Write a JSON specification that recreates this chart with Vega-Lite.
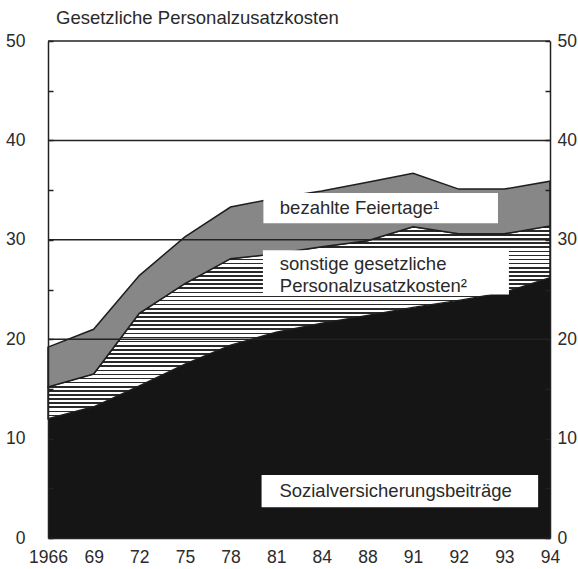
{
  "$schema": "https://vega.github.io/schema/vega-lite/v6.json",
  "width": 502,
  "height": 497,
  "autosize": {"type": "none"},
  "padding": {"left": 48, "top": 41, "right": 28, "bottom": 31},
  "background": "white",
  "title": {"text": "Gesetzliche Personalzusatzkosten", "anchor": "start", "frame": "group", "fontSize": 18.5, "fontWeight": "normal", "font": "Liberation Sans", "color": "#2a2a2a", "offset": 5, "dx": 8},
  "config": {"view": {"stroke": null}, "font": "Liberation Sans"},
  "datasets": {
    "kosten": [
      {"idx": 0, "year": "1966", "series": "Sozialversicherungsbeiträge", "rank": 1, "value": 12.0},
      {"idx": 1, "year": "69", "series": "Sozialversicherungsbeiträge", "rank": 1, "value": 13.2},
      {"idx": 2, "year": "72", "series": "Sozialversicherungsbeiträge", "rank": 1, "value": 15.3},
      {"idx": 3, "year": "75", "series": "Sozialversicherungsbeiträge", "rank": 1, "value": 17.5},
      {"idx": 4, "year": "78", "series": "Sozialversicherungsbeiträge", "rank": 1, "value": 19.4},
      {"idx": 5, "year": "81", "series": "Sozialversicherungsbeiträge", "rank": 1, "value": 20.7},
      {"idx": 6, "year": "84", "series": "Sozialversicherungsbeiträge", "rank": 1, "value": 21.6},
      {"idx": 7, "year": "88", "series": "Sozialversicherungsbeiträge", "rank": 1, "value": 22.4},
      {"idx": 8, "year": "91", "series": "Sozialversicherungsbeiträge", "rank": 1, "value": 23.2},
      {"idx": 9, "year": "92", "series": "Sozialversicherungsbeiträge", "rank": 1, "value": 23.9},
      {"idx": 10, "year": "93", "series": "Sozialversicherungsbeiträge", "rank": 1, "value": 24.7},
      {"idx": 11, "year": "94", "series": "Sozialversicherungsbeiträge", "rank": 1, "value": 26.2},
      {"idx": 0, "year": "1966", "series": "sonstige gesetzliche Personalzusatzkosten", "rank": 2, "value": 3.2},
      {"idx": 1, "year": "69", "series": "sonstige gesetzliche Personalzusatzkosten", "rank": 2, "value": 3.3},
      {"idx": 2, "year": "72", "series": "sonstige gesetzliche Personalzusatzkosten", "rank": 2, "value": 7.3},
      {"idx": 3, "year": "75", "series": "sonstige gesetzliche Personalzusatzkosten", "rank": 2, "value": 8.1},
      {"idx": 4, "year": "78", "series": "sonstige gesetzliche Personalzusatzkosten", "rank": 2, "value": 8.7},
      {"idx": 5, "year": "81", "series": "sonstige gesetzliche Personalzusatzkosten", "rank": 2, "value": 7.9},
      {"idx": 6, "year": "84", "series": "sonstige gesetzliche Personalzusatzkosten", "rank": 2, "value": 7.7},
      {"idx": 7, "year": "88", "series": "sonstige gesetzliche Personalzusatzkosten", "rank": 2, "value": 7.5},
      {"idx": 8, "year": "91", "series": "sonstige gesetzliche Personalzusatzkosten", "rank": 2, "value": 8.1},
      {"idx": 9, "year": "92", "series": "sonstige gesetzliche Personalzusatzkosten", "rank": 2, "value": 6.7},
      {"idx": 10, "year": "93", "series": "sonstige gesetzliche Personalzusatzkosten", "rank": 2, "value": 5.9},
      {"idx": 11, "year": "94", "series": "sonstige gesetzliche Personalzusatzkosten", "rank": 2, "value": 5.2},
      {"idx": 0, "year": "1966", "series": "bezahlte Feiertage", "rank": 3, "value": 4.0},
      {"idx": 1, "year": "69", "series": "bezahlte Feiertage", "rank": 3, "value": 4.5},
      {"idx": 2, "year": "72", "series": "bezahlte Feiertage", "rank": 3, "value": 3.8},
      {"idx": 3, "year": "75", "series": "bezahlte Feiertage", "rank": 3, "value": 4.7},
      {"idx": 4, "year": "78", "series": "bezahlte Feiertage", "rank": 3, "value": 5.2},
      {"idx": 5, "year": "81", "series": "bezahlte Feiertage", "rank": 3, "value": 5.6},
      {"idx": 6, "year": "84", "series": "bezahlte Feiertage", "rank": 3, "value": 5.6},
      {"idx": 7, "year": "88", "series": "bezahlte Feiertage", "rank": 3, "value": 5.9},
      {"idx": 8, "year": "91", "series": "bezahlte Feiertage", "rank": 3, "value": 5.4},
      {"idx": 9, "year": "92", "series": "bezahlte Feiertage", "rank": 3, "value": 4.5},
      {"idx": 10, "year": "93", "series": "bezahlte Feiertage", "rank": 3, "value": 4.5},
      {"idx": 11, "year": "94", "series": "bezahlte Feiertage", "rank": 3, "value": 4.5}
    ]
  },
  "layer": [
    {
      "data": {"name": "kosten"},
      "transform": [
        {"stack": "value", "groupby": ["idx"], "sort": [{"field": "rank", "order": "ascending"}], "as": ["v0", "v1"]},
        {"filter": "datum.rank === 1"}
      ],
      "mark": {"type": "area", "fill": "#151515", "stroke": null},
      "encoding": {
        "x": {"field": "idx", "type": "quantitative", "scale": {"domain": [0, 11], "nice": false, "zero": false},
          "axis": {"values": [0, 1, 2, 3, 4, 5, 6, 7, 8, 9, 10, 11], "labelExpr": "['1966','69','72','75','78','81','84','88','91','92','93','94'][datum.value]", "ticks": false, "domain": true, "domainColor": "#222", "domainWidth": 1.5, "grid": false, "labelFontSize": 17.5, "labelFont": "Liberation Sans", "labelColor": "#2b2b2b", "labelPadding": 10, "labelDx": 5, "labelFlush": false, "labelOverlap": false, "title": null, "zindex": 1}},
        "y": {"field": "v1", "type": "quantitative", "scale": {"domain": [0, 50], "nice": false, "zero": true},
          "axis": {"orient": "left", "values": [0, 5, 10, 15, 20, 25, 30, 35, 40, 45, 50], "labelExpr": "datum.value % 10 === 0 ? datum.label : ''", "tickSize": -5, "tickColor": "#222", "tickWidth": 1.5, "domain": true, "domainColor": "#222", "domainWidth": 1.5, "grid": false, "labelFontSize": 17.5, "labelFont": "Liberation Sans", "labelColor": "#2b2b2b", "labelPadding": 28, "labelFlush": false, "labelOverlap": false, "title": null, "zindex": 1}},
        "y2": {"field": "v0"}
      }
    },
    {
      "data": {"name": "kosten"},
      "transform": [
        {"stack": "value", "groupby": ["idx"], "sort": [{"field": "rank", "order": "ascending"}], "as": ["v0", "v1"]},
        {"filter": "datum.rank === 2"}
      ],
      "mark": {"type": "area", "stroke": "#1e1e1e", "strokeWidth": 1.4,
        "fill": {"gradient": "linear", "x1": 0, "y1": 0, "x2": 0, "y2": 1, "stops": [
          {"offset": 0.0000, "color": "#fff"}, {"offset": 0.0000, "color": "#2a2a2a"}, {"offset": 0.0085, "color": "#2a2a2a"}, {"offset": 0.0085, "color": "#fff"},
          {"offset": 0.0213, "color": "#fff"}, {"offset": 0.0213, "color": "#2a2a2a"}, {"offset": 0.0298, "color": "#2a2a2a"}, {"offset": 0.0298, "color": "#fff"},
          {"offset": 0.0426, "color": "#fff"}, {"offset": 0.0426, "color": "#2a2a2a"}, {"offset": 0.0511, "color": "#2a2a2a"}, {"offset": 0.0511, "color": "#fff"},
          {"offset": 0.0638, "color": "#fff"}, {"offset": 0.0638, "color": "#2a2a2a"}, {"offset": 0.0723, "color": "#2a2a2a"}, {"offset": 0.0723, "color": "#fff"},
          {"offset": 0.0851, "color": "#fff"}, {"offset": 0.0851, "color": "#2a2a2a"}, {"offset": 0.0936, "color": "#2a2a2a"}, {"offset": 0.0936, "color": "#fff"},
          {"offset": 0.1064, "color": "#fff"}, {"offset": 0.1064, "color": "#2a2a2a"}, {"offset": 0.1149, "color": "#2a2a2a"}, {"offset": 0.1149, "color": "#fff"},
          {"offset": 0.1277, "color": "#fff"}, {"offset": 0.1277, "color": "#2a2a2a"}, {"offset": 0.1362, "color": "#2a2a2a"}, {"offset": 0.1362, "color": "#fff"},
          {"offset": 0.1490, "color": "#fff"}, {"offset": 0.1490, "color": "#2a2a2a"}, {"offset": 0.1575, "color": "#2a2a2a"}, {"offset": 0.1575, "color": "#fff"},
          {"offset": 0.1702, "color": "#fff"}, {"offset": 0.1702, "color": "#2a2a2a"}, {"offset": 0.1787, "color": "#2a2a2a"}, {"offset": 0.1787, "color": "#fff"},
          {"offset": 0.1915, "color": "#fff"}, {"offset": 0.1915, "color": "#2a2a2a"}, {"offset": 0.2000, "color": "#2a2a2a"}, {"offset": 0.2000, "color": "#fff"},
          {"offset": 0.2128, "color": "#fff"}, {"offset": 0.2128, "color": "#2a2a2a"}, {"offset": 0.2213, "color": "#2a2a2a"}, {"offset": 0.2213, "color": "#fff"},
          {"offset": 0.2341, "color": "#fff"}, {"offset": 0.2341, "color": "#2a2a2a"}, {"offset": 0.2426, "color": "#2a2a2a"}, {"offset": 0.2426, "color": "#fff"},
          {"offset": 0.2554, "color": "#fff"}, {"offset": 0.2554, "color": "#2a2a2a"}, {"offset": 0.2639, "color": "#2a2a2a"}, {"offset": 0.2639, "color": "#fff"},
          {"offset": 0.2766, "color": "#fff"}, {"offset": 0.2766, "color": "#2a2a2a"}, {"offset": 0.2851, "color": "#2a2a2a"}, {"offset": 0.2851, "color": "#fff"},
          {"offset": 0.2979, "color": "#fff"}, {"offset": 0.2979, "color": "#2a2a2a"}, {"offset": 0.3064, "color": "#2a2a2a"}, {"offset": 0.3064, "color": "#fff"},
          {"offset": 0.3192, "color": "#fff"}, {"offset": 0.3192, "color": "#2a2a2a"}, {"offset": 0.3277, "color": "#2a2a2a"}, {"offset": 0.3277, "color": "#fff"},
          {"offset": 0.3405, "color": "#fff"}, {"offset": 0.3405, "color": "#2a2a2a"}, {"offset": 0.3490, "color": "#2a2a2a"}, {"offset": 0.3490, "color": "#fff"},
          {"offset": 0.3618, "color": "#fff"}, {"offset": 0.3618, "color": "#2a2a2a"}, {"offset": 0.3703, "color": "#2a2a2a"}, {"offset": 0.3703, "color": "#fff"},
          {"offset": 0.3830, "color": "#fff"}, {"offset": 0.3830, "color": "#2a2a2a"}, {"offset": 0.3915, "color": "#2a2a2a"}, {"offset": 0.3915, "color": "#fff"},
          {"offset": 0.4043, "color": "#fff"}, {"offset": 0.4043, "color": "#2a2a2a"}, {"offset": 0.4128, "color": "#2a2a2a"}, {"offset": 0.4128, "color": "#fff"},
          {"offset": 0.4256, "color": "#fff"}, {"offset": 0.4256, "color": "#2a2a2a"}, {"offset": 0.4341, "color": "#2a2a2a"}, {"offset": 0.4341, "color": "#fff"},
          {"offset": 0.4469, "color": "#fff"}, {"offset": 0.4469, "color": "#2a2a2a"}, {"offset": 0.4554, "color": "#2a2a2a"}, {"offset": 0.4554, "color": "#fff"},
          {"offset": 0.4682, "color": "#fff"}, {"offset": 0.4682, "color": "#2a2a2a"}, {"offset": 0.4767, "color": "#2a2a2a"}, {"offset": 0.4767, "color": "#fff"},
          {"offset": 0.4894, "color": "#fff"}, {"offset": 0.4894, "color": "#2a2a2a"}, {"offset": 0.4979, "color": "#2a2a2a"}, {"offset": 0.4979, "color": "#fff"},
          {"offset": 0.5107, "color": "#fff"}, {"offset": 0.5107, "color": "#2a2a2a"}, {"offset": 0.5192, "color": "#2a2a2a"}, {"offset": 0.5192, "color": "#fff"},
          {"offset": 0.5320, "color": "#fff"}, {"offset": 0.5320, "color": "#2a2a2a"}, {"offset": 0.5405, "color": "#2a2a2a"}, {"offset": 0.5405, "color": "#fff"},
          {"offset": 0.5533, "color": "#fff"}, {"offset": 0.5533, "color": "#2a2a2a"}, {"offset": 0.5618, "color": "#2a2a2a"}, {"offset": 0.5618, "color": "#fff"},
          {"offset": 0.5746, "color": "#fff"}, {"offset": 0.5746, "color": "#2a2a2a"}, {"offset": 0.5831, "color": "#2a2a2a"}, {"offset": 0.5831, "color": "#fff"},
          {"offset": 0.5958, "color": "#fff"}, {"offset": 0.5958, "color": "#2a2a2a"}, {"offset": 0.6043, "color": "#2a2a2a"}, {"offset": 0.6043, "color": "#fff"},
          {"offset": 0.6171, "color": "#fff"}, {"offset": 0.6171, "color": "#2a2a2a"}, {"offset": 0.6256, "color": "#2a2a2a"}, {"offset": 0.6256, "color": "#fff"},
          {"offset": 0.6384, "color": "#fff"}, {"offset": 0.6384, "color": "#2a2a2a"}, {"offset": 0.6469, "color": "#2a2a2a"}, {"offset": 0.6469, "color": "#fff"},
          {"offset": 0.6597, "color": "#fff"}, {"offset": 0.6597, "color": "#2a2a2a"}, {"offset": 0.6682, "color": "#2a2a2a"}, {"offset": 0.6682, "color": "#fff"},
          {"offset": 0.6810, "color": "#fff"}, {"offset": 0.6810, "color": "#2a2a2a"}, {"offset": 0.6895, "color": "#2a2a2a"}, {"offset": 0.6895, "color": "#fff"},
          {"offset": 0.7022, "color": "#fff"}, {"offset": 0.7022, "color": "#2a2a2a"}, {"offset": 0.7107, "color": "#2a2a2a"}, {"offset": 0.7107, "color": "#fff"},
          {"offset": 0.7235, "color": "#fff"}, {"offset": 0.7235, "color": "#2a2a2a"}, {"offset": 0.7320, "color": "#2a2a2a"}, {"offset": 0.7320, "color": "#fff"},
          {"offset": 0.7448, "color": "#fff"}, {"offset": 0.7448, "color": "#2a2a2a"}, {"offset": 0.7533, "color": "#2a2a2a"}, {"offset": 0.7533, "color": "#fff"},
          {"offset": 0.7661, "color": "#fff"}, {"offset": 0.7661, "color": "#2a2a2a"}, {"offset": 0.7746, "color": "#2a2a2a"}, {"offset": 0.7746, "color": "#fff"},
          {"offset": 0.7874, "color": "#fff"}, {"offset": 0.7874, "color": "#2a2a2a"}, {"offset": 0.7959, "color": "#2a2a2a"}, {"offset": 0.7959, "color": "#fff"},
          {"offset": 0.8086, "color": "#fff"}, {"offset": 0.8086, "color": "#2a2a2a"}, {"offset": 0.8171, "color": "#2a2a2a"}, {"offset": 0.8171, "color": "#fff"},
          {"offset": 0.8299, "color": "#fff"}, {"offset": 0.8299, "color": "#2a2a2a"}, {"offset": 0.8384, "color": "#2a2a2a"}, {"offset": 0.8384, "color": "#fff"},
          {"offset": 0.8512, "color": "#fff"}, {"offset": 0.8512, "color": "#2a2a2a"}, {"offset": 0.8597, "color": "#2a2a2a"}, {"offset": 0.8597, "color": "#fff"},
          {"offset": 0.8725, "color": "#fff"}, {"offset": 0.8725, "color": "#2a2a2a"}, {"offset": 0.8810, "color": "#2a2a2a"}, {"offset": 0.8810, "color": "#fff"},
          {"offset": 0.8938, "color": "#fff"}, {"offset": 0.8938, "color": "#2a2a2a"}, {"offset": 0.9023, "color": "#2a2a2a"}, {"offset": 0.9023, "color": "#fff"},
          {"offset": 0.9150, "color": "#fff"}, {"offset": 0.9150, "color": "#2a2a2a"}, {"offset": 0.9235, "color": "#2a2a2a"}, {"offset": 0.9235, "color": "#fff"},
          {"offset": 0.9363, "color": "#fff"}, {"offset": 0.9363, "color": "#2a2a2a"}, {"offset": 0.9448, "color": "#2a2a2a"}, {"offset": 0.9448, "color": "#fff"},
          {"offset": 0.9576, "color": "#fff"}, {"offset": 0.9576, "color": "#2a2a2a"}, {"offset": 0.9661, "color": "#2a2a2a"}, {"offset": 0.9661, "color": "#fff"},
          {"offset": 0.9789, "color": "#fff"}, {"offset": 0.9789, "color": "#2a2a2a"}, {"offset": 0.9874, "color": "#2a2a2a"}, {"offset": 0.9874, "color": "#fff"},
          {"offset": 1.0000, "color": "#fff"}
        ]}},
      "encoding": {
        "x": {"field": "idx", "type": "quantitative"},
        "y": {"field": "v1", "type": "quantitative",
          "axis": {"orient": "right", "values": [0, 5, 10, 15, 20, 25, 30, 35, 40, 45, 50], "labelExpr": "datum.value % 10 === 0 ? datum.label : ''", "tickSize": -5, "tickColor": "#222", "tickWidth": 1.5, "domain": true, "domainColor": "#222", "domainWidth": 1.5, "grid": false, "labelFontSize": 17.5, "labelFont": "Liberation Sans", "labelColor": "#2b2b2b", "labelPadding": 12, "labelFlush": false, "labelOverlap": false, "title": null, "zindex": 1}},
        "y2": {"field": "v0"}
      }
    },
    {
      "data": {"name": "kosten"},
      "transform": [
        {"stack": "value", "groupby": ["idx"], "sort": [{"field": "rank", "order": "ascending"}], "as": ["v0", "v1"]},
        {"filter": "datum.rank === 3"}
      ],
      "mark": {"type": "area", "fill": "#878787", "stroke": "#1e1e1e", "strokeWidth": 1.5},
      "encoding": {
        "x": {"field": "idx", "type": "quantitative"},
        "y": {"field": "v1", "type": "quantitative", "axis": null},
        "y2": {"field": "v0"}
      }
    },
    {
      "data": {"values": [{"g": 20}, {"g": 30}, {"g": 40}, {"g": 50}]},
      "mark": {"type": "rule", "stroke": "#222", "strokeWidth": 1.5},
      "encoding": {
        "y": {"field": "g", "type": "quantitative", "axis": null}
      }
    },
    {
      "data": {"values": [{}]},
      "mark": {"type": "rect", "fill": "white"},
      "encoding": {
        "x": {"datum": 4.72, "type": "quantitative"},
        "x2": {"datum": 9.86},
        "y": {"datum": 34.7, "type": "quantitative", "axis": null},
        "y2": {"datum": 31.66}
      }
    },
    {
      "data": {"values": [{}]},
      "mark": {"type": "text", "text": "bezahlte Feiertage¹", "align": "left", "baseline": "middle", "fontSize": 18.5, "font": "Liberation Sans", "color": "#2a2a2a"},
      "encoding": {
        "x": {"datum": 5.08, "type": "quantitative"},
        "y": {"datum": 33.2, "type": "quantitative", "axis": null}
      }
    },
    {
      "data": {"values": [{}]},
      "mark": {"type": "rect", "fill": "white"},
      "encoding": {
        "x": {"datum": 4.71, "type": "quantitative"},
        "x2": {"datum": 10.1},
        "y": {"datum": 28.95, "type": "quantitative", "axis": null},
        "y2": {"datum": 24.5}
      }
    },
    {
      "data": {"values": [{}]},
      "mark": {"type": "text", "text": ["sonstige gesetzliche", "Personalzusatzkosten²"], "lineHeight": 21.5, "align": "left", "baseline": "middle", "fontSize": 18.5, "font": "Liberation Sans", "color": "#2a2a2a"},
      "encoding": {
        "x": {"datum": 5.08, "type": "quantitative"},
        "y": {"datum": 27.55, "type": "quantitative", "axis": null}
      }
    },
    {
      "data": {"values": [{}]},
      "mark": {"type": "rect", "fill": "white"},
      "encoding": {
        "x": {"datum": 4.68, "type": "quantitative"},
        "x2": {"datum": 10.74},
        "y": {"datum": 6.34, "type": "quantitative", "axis": null},
        "y2": {"datum": 3.09}
      }
    },
    {
      "data": {"values": [{}]},
      "mark": {"type": "text", "text": "Sozialversicherungsbeiträge", "align": "left", "baseline": "middle", "fontSize": 18.5, "font": "Liberation Sans", "color": "#2a2a2a"},
      "encoding": {
        "x": {"datum": 5.07, "type": "quantitative"},
        "y": {"datum": 4.73, "type": "quantitative", "axis": null}
      }
    }
  ],
  "resolve": {"axis": {"y": "independent"}}
}
